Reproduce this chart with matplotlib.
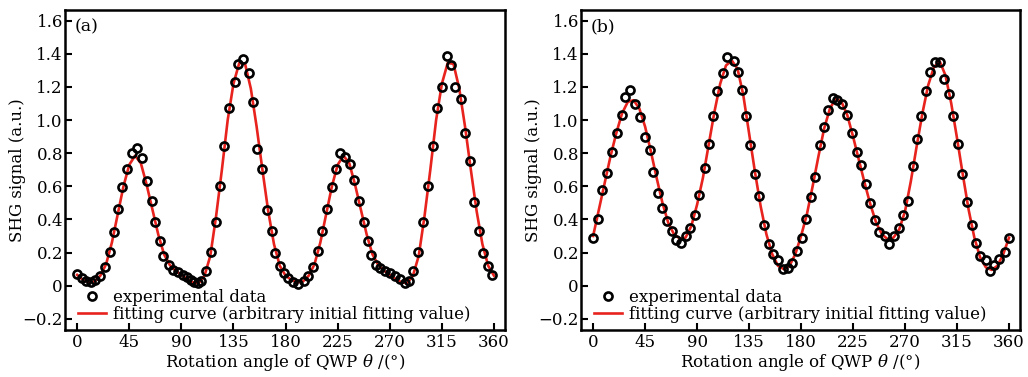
import matplotlib
matplotlib.use('Agg')
import matplotlib.pyplot as plt

plt.rcParams['font.family'] = ['DejaVu Serif']
plt.rcParams['mathtext.fontset'] = 'dejavuserif'

# ---------------- data ----------------
xtick_vals = [0, 45, 90, 135, 180, 225, 270, 315, 360]
ytick_vals = [-0.2, 0, 0.2, 0.4, 0.6, 0.8, 1.0, 1.2, 1.4, 1.6]
ytick_labels = ['\u22120.2', '0', '0.2', '0.4', '0.6', '0.8', '1.0', '1.2', '1.4', '1.6']

# panel (a) experimental data
a_theta = [0, 4, 8, 12, 15.5, 19.3, 24, 28, 32, 35.5, 39, 43, 47, 51.5, 56.4, 60, 64.5, 67.5,
           71.7, 74.5, 79, 83, 87, 91, 95, 98, 101, 104, 107, 111, 115.7, 119.7, 123.5, 127.2,
           131.5, 135.9, 139.3, 143.6, 148.5, 151.7, 155, 159.5, 163.8, 168, 171, 175, 179,
           182.5, 186.8, 191, 195.5, 199.5, 203.5, 208, 211.5, 215.6, 220, 223.5, 227, 231,
           235.5, 239.5, 243.8, 247.9, 251, 254, 258.2, 261.6, 266, 270.3, 274.6, 278.9, 283,
           286.7, 290.4, 294.7, 299, 303.4, 307.7, 311.2, 315.5, 319.3, 323, 326.4, 331.6,
           335.3, 339.6, 343, 347, 350.9, 354.7, 358.7]
a_signal = [0.07, 0.045, 0.03, 0.02, 0.035, 0.06, 0.115, 0.205, 0.326, 0.46, 0.598, 0.705,
            0.80, 0.833, 0.77, 0.634, 0.513, 0.386, 0.272, 0.18, 0.125, 0.095, 0.08, 0.065,
            0.05, 0.035, 0.02, 0.015, 0.03, 0.09, 0.205, 0.383, 0.604, 0.844, 1.07, 1.232,
            1.339, 1.367, 1.286, 1.107, 0.824, 0.703, 0.457, 0.33, 0.2, 0.119, 0.075, 0.045,
            0.02, 0.01, 0.03, 0.06, 0.115, 0.21, 0.33, 0.46, 0.598, 0.705, 0.803, 0.779, 0.735,
            0.638, 0.513, 0.386, 0.272, 0.185, 0.125, 0.105, 0.09, 0.075, 0.06, 0.04, 0.015,
            0.025, 0.09, 0.205, 0.386, 0.604, 0.844, 1.07, 1.2, 1.387, 1.335, 1.2, 1.127,
            0.924, 0.755, 0.503, 0.33, 0.2, 0.12, 0.066]

# panel (a) fitting curve (read every 5 degrees)
fit_theta = list(range(0, 361, 5))
a_fit = [0.065, 0.035, 0.02, 0.025, 0.06, 0.13, 0.26, 0.43, 0.60, 0.73, 0.785, 0.74, 0.61,
         0.46, 0.31, 0.19, 0.125, 0.09, 0.065, 0.04, 0.02, 0.015, 0.06, 0.18, 0.42, 0.70,
         1.00, 1.22, 1.345, 1.34, 1.19, 0.96, 0.70, 0.45, 0.25, 0.12, 0.06,
         0.035, 0.02, 0.025, 0.06, 0.13, 0.26, 0.43, 0.60, 0.73, 0.785, 0.74, 0.61,
         0.46, 0.31, 0.19, 0.125, 0.09, 0.065, 0.04, 0.02, 0.015, 0.06, 0.18, 0.42, 0.70,
         1.00, 1.22, 1.345, 1.34, 1.19, 0.96, 0.70, 0.45, 0.25, 0.12, 0.06]

# panel (b) experimental data
b_theta = [0, 4.6, 8, 12.4, 16.7, 21, 24.7, 28, 32, 36, 41, 45, 49, 52, 56.4, 60, 64, 68, 72,
           76, 80, 84, 88, 92, 97, 100, 104, 107.5, 112, 116, 122, 125.6, 129, 132, 136, 140.5,
           144, 147.5, 152, 155.6, 160, 164.5, 168.5, 172.5, 176.5, 180.5, 184.5, 188.5,
           192.3, 196.7, 199.6, 203.5, 207.5, 211.5, 215, 220, 224, 228, 231.5, 236.5, 240,
           243.7, 247.7, 252.4, 256.4, 260.1, 264.4, 268, 272.5, 276.5, 280, 284, 288, 292,
           296, 300, 303.6, 308, 311.7, 316, 319.7, 324, 327.6, 331, 334.7, 339.7, 343.4,
           346.8, 351.2, 356.4, 360]
b_signal = [0.29, 0.40, 0.577, 0.68, 0.81, 0.925, 1.03, 1.14, 1.18, 1.10, 1.02, 0.90, 0.818,
            0.684, 0.558, 0.467, 0.393, 0.333, 0.277, 0.26, 0.30, 0.347, 0.427, 0.547, 0.712,
            0.854, 1.023, 1.175, 1.285, 1.38, 1.355, 1.29, 1.183, 1.023, 0.848, 0.674, 0.541,
            0.367, 0.25, 0.19, 0.155, 0.098, 0.105, 0.135, 0.21, 0.285, 0.405, 0.537, 0.654,
            0.848, 0.958, 1.059, 1.135, 1.123, 1.10, 1.03, 0.922, 0.808, 0.73, 0.611, 0.501,
            0.397, 0.321, 0.30, 0.253, 0.297, 0.347, 0.427, 0.513, 0.72, 0.888, 1.023, 1.175,
            1.29, 1.35, 1.35, 1.25, 1.159, 1.023, 0.854, 0.674, 0.507, 0.367, 0.257, 0.176,
            0.152, 0.086, 0.126, 0.16, 0.206, 0.29]

# panel (b) fitting curve (read every 5 degrees)
b_fit = [0.30, 0.46, 0.62, 0.78, 0.92, 1.04, 1.11, 1.12, 1.07, 0.96, 0.81, 0.65, 0.50, 0.38,
         0.31, 0.285, 0.29, 0.36, 0.49, 0.65, 0.85, 1.05, 1.22, 1.33, 1.36, 1.31, 1.15, 0.92,
         0.69, 0.48, 0.31, 0.19, 0.12, 0.10, 0.12, 0.19, 0.30, 0.43, 0.60, 0.78, 0.95, 1.07,
         1.13, 1.11, 1.03, 0.90, 0.76, 0.62, 0.49, 0.38, 0.31, 0.28, 0.29, 0.34, 0.45, 0.63,
         0.84, 1.04, 1.21, 1.32, 1.355, 1.27, 1.10, 0.89, 0.67, 0.46, 0.29, 0.17, 0.11, 0.095,
         0.12, 0.19, 0.29]

panel_tags = ['(a)', '(b)']
legend_labels = ['experimental data', 'fitting curve (arbitrary initial fitting value)']
xlabel = 'Rotation angle of QWP $\\theta$ /(\u00b0)'
ylabel = 'SHG signal (a.u.)'

# ---------------- figure ----------------
W, H = 1028, 377
fig = plt.figure(figsize=(W / 100, H / 100), dpi=100)

boxes = [(65, 10, 505, 330), (581, 10, 1020, 330)]
datasets = [(a_theta, a_signal, a_fit), (b_theta, b_signal, b_fit)]
red = '#e8231e'
fs = 12

for (l, t, r, b), (th, sig, fit), tag in zip(boxes, datasets, panel_tags):
    ax = fig.add_axes([l / W, 1 - b / H, (r - l) / W, (b - t) / H])
    ax.plot(fit_theta, fit, color=red, lw=1.9, zorder=2, label=legend_labels[1])
    ax.plot(th, sig, linestyle='none', marker='o', ms=5.8, mfc='none', mec='black',
            mew=1.9, zorder=3, label=legend_labels[0])
    ax.set_xlim(-10.5, 369.5)
    ax.set_ylim(-0.268, 1.665)
    ax.set_xticks(xtick_vals)
    ax.set_xticklabels([str(v) for v in xtick_vals], fontsize=fs)
    ax.set_yticks(ytick_vals)
    ax.set_yticklabels(ytick_labels, fontsize=fs)
    ax.tick_params(direction='in', length=5, width=1.5, top=False, right=False, pad=1.5)
    ax.tick_params(axis='x', pad=3)
    for s in ax.spines.values():
        s.set_linewidth(1.8)
    ax.set_xlabel(xlabel, fontsize=fs)
    ax.xaxis.set_label_coords(0.5, -0.068)
    ax.set_ylabel(ylabel, fontsize=fs)
    ax.yaxis.set_label_coords(-0.088, 0.5)
    ax.text(0.022, 0.975, tag, transform=ax.transAxes, fontsize=fs + 0.5, va='top', ha='left')
    handles, labels = ax.get_legend_handles_labels()
    ax.legend(handles[::-1], labels[::-1], loc='lower left', bbox_to_anchor=(0.025, 0.018),
              frameon=False, fontsize=fs, borderpad=0.1, labelspacing=0.0,
              handlelength=1.7, handletextpad=0.4, borderaxespad=0)

fig.savefig('out.png', dpi=100)
